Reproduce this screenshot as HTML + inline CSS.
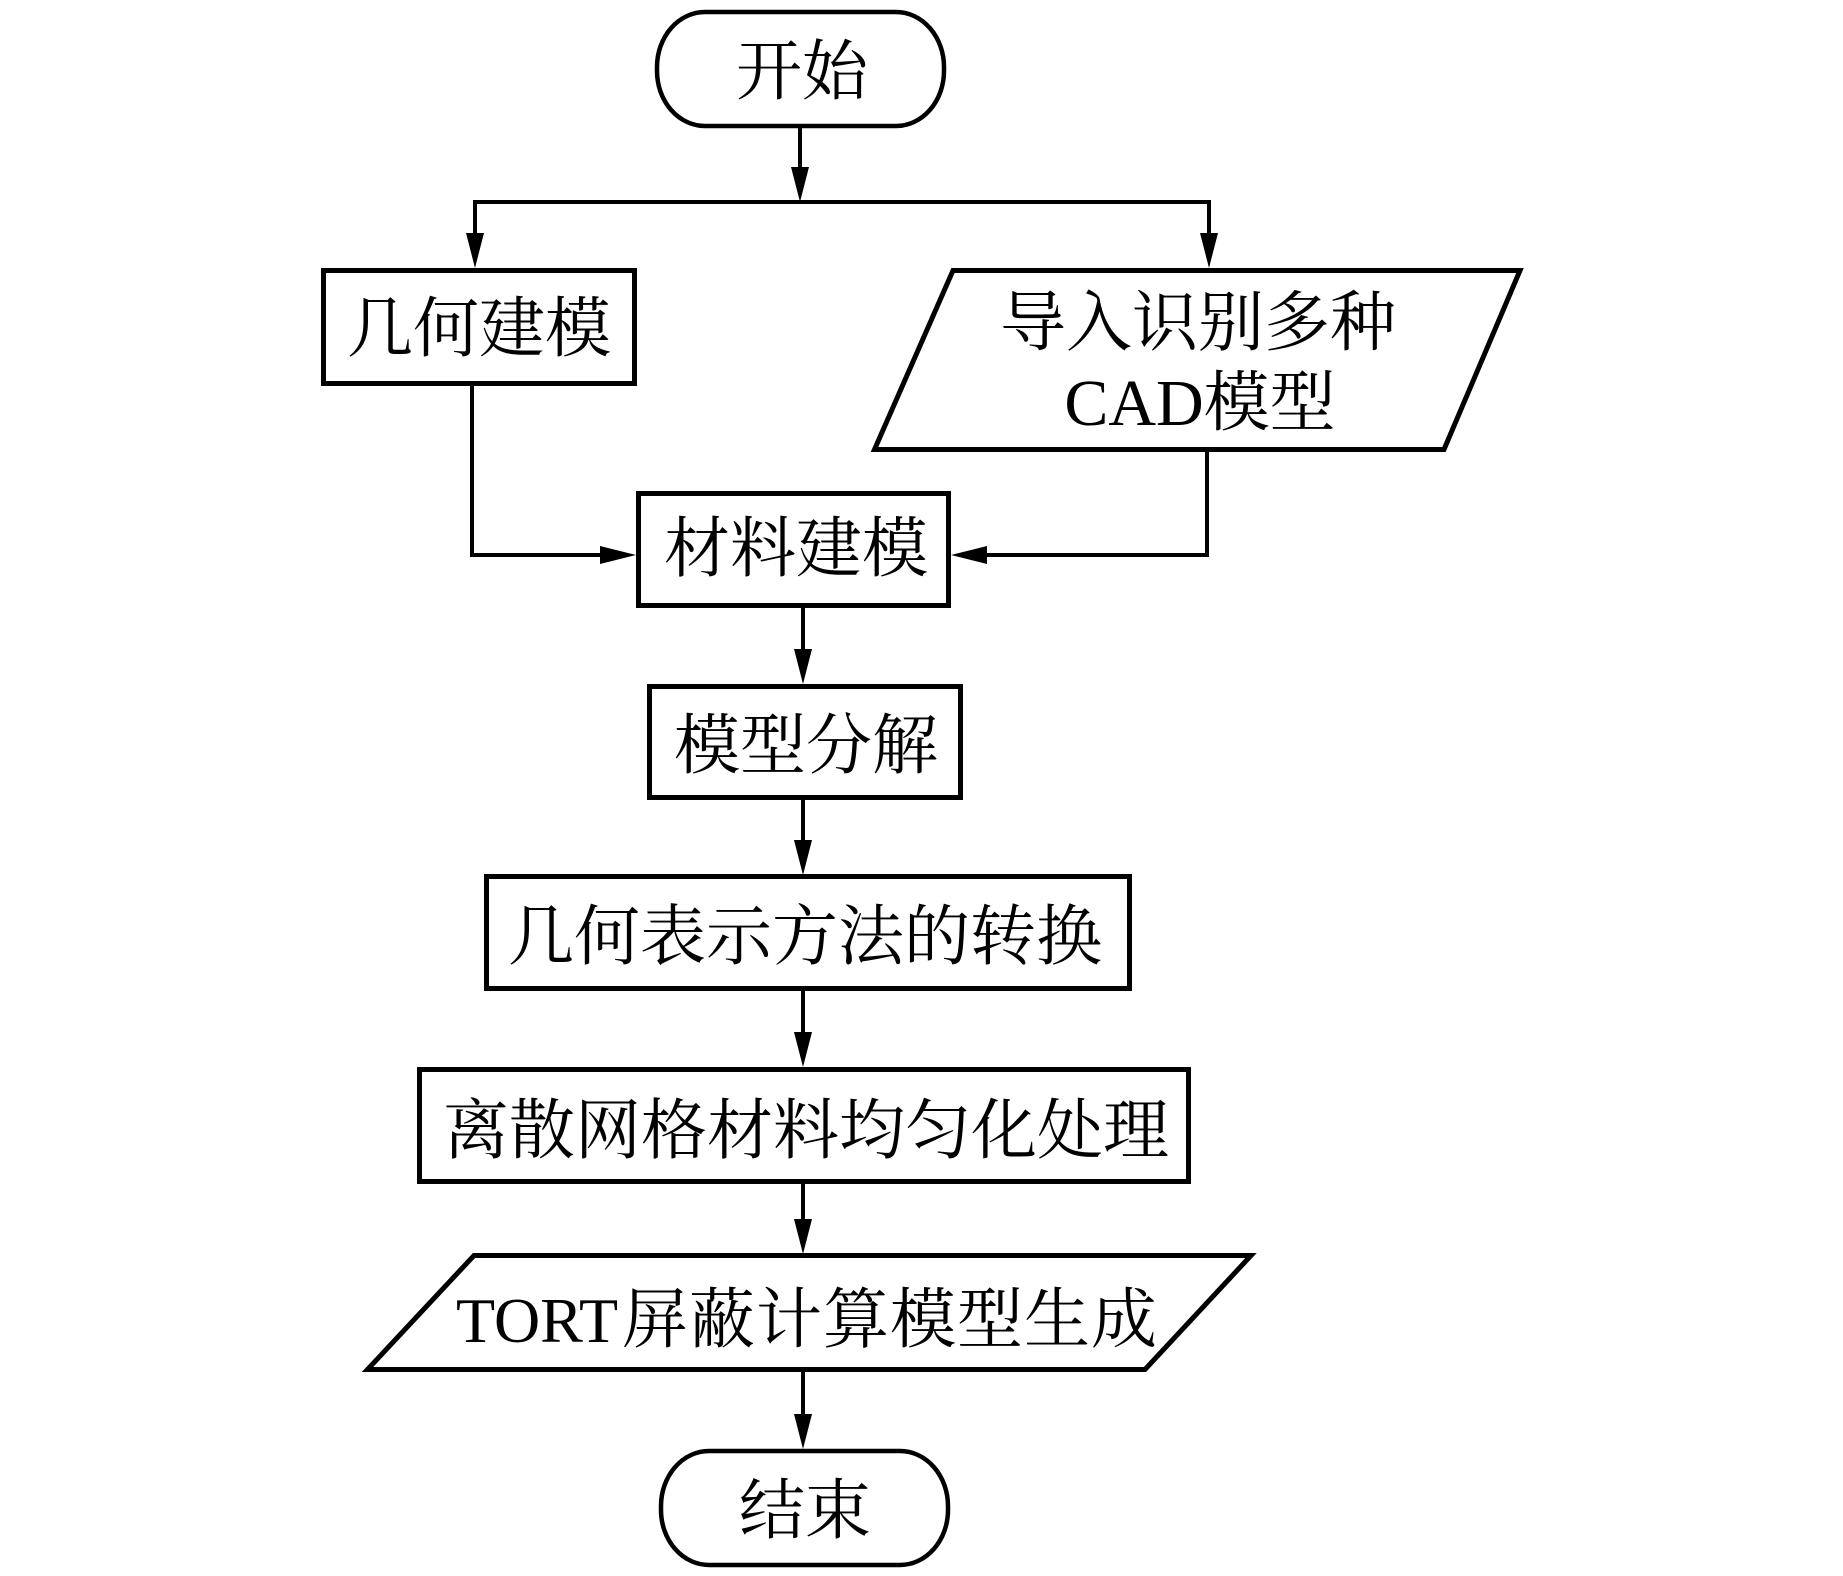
<!DOCTYPE html>
<html>
<head>
<meta charset="utf-8">
<style>
  html, body { margin: 0; padding: 0; background: #fff; }
  svg { display: block; }
  text { font-family: "Liberation Serif", "Noto Serif CJK SC", serif; font-size: 66px; fill: #000; }
</style>
</head>
<body>
<svg width="1843" height="1576" viewBox="0 0 1843 1576" xmlns="http://www.w3.org/2000/svg">
  <rect x="0" y="0" width="1843" height="1576" fill="#fff"/>
  <g fill="none" stroke="#000" stroke-width="5">
    <!-- start -->
    <rect x="657" y="12" width="287" height="114" rx="48" ry="55" stroke-width="4.5"/>
    <!-- geometry modeling -->
    <rect x="323.5" y="270.5" width="311" height="113"/>
    <!-- import parallelogram -->
    <polygon points="953,270.5 1520,270.5 1444,449.5 874.5,449.5"/>
    <!-- material modeling -->
    <rect x="638.5" y="493.5" width="310" height="112"/>
    <!-- model decomposition -->
    <rect x="649.5" y="686.5" width="311" height="111"/>
    <!-- geometry representation conversion -->
    <rect x="486.5" y="876.5" width="643" height="112"/>
    <!-- discrete mesh -->
    <rect x="419.5" y="1069.5" width="769" height="112"/>
    <!-- TORT parallelogram -->
    <polygon points="474,1255.5 1251,1255.5 1145,1369.5 367.5,1369.5"/>
    <!-- end -->
    <rect x="661" y="1451" width="287" height="114" rx="48" ry="55" stroke-width="4.5"/>
  </g>

  <!-- connectors -->
  <g fill="none" stroke="#000" stroke-width="4">
    <line x1="800" y1="128" x2="800" y2="172"/>
    <polyline points="475,250 475,202 1209,202 1209,250"/>
    <polyline points="472,386 472,555 606,555"/>
    <polyline points="1207,452 1207,555 982,555"/>
    <line x1="803" y1="608" x2="803" y2="652"/>
    <line x1="803" y1="800" x2="803" y2="843"/>
    <line x1="803" y1="991" x2="803" y2="1035"/>
    <line x1="803" y1="1184" x2="803" y2="1222"/>
    <line x1="803" y1="1372" x2="803" y2="1417"/>
  </g>

  <!-- arrowheads -->
  <g fill="#000" stroke="none">
    <polygon points="791,167 809,167 800,202"/>
    <polygon points="466,233 484,233 475,268"/>
    <polygon points="1200,233 1218,233 1209,268"/>
    <polygon points="600,546 600,564 636,555"/>
    <polygon points="987,546 987,564 951,555"/>
    <polygon points="794,649 812,649 803,684"/>
    <polygon points="794,840 812,840 803,875"/>
    <polygon points="794,1032 812,1032 803,1067"/>
    <polygon points="794,1219 812,1219 803,1254"/>
    <polygon points="794,1414 812,1414 803,1449"/>
  </g>

  <!-- labels -->
  <text x="802" y="94" text-anchor="middle">开始</text>
  <text x="479" y="351" text-anchor="middle">几何建模</text>
  <text x="1198" y="345" text-anchor="middle">导入识别多种</text>
  <text x="1200" y="425" text-anchor="middle">CAD模型</text>
  <text x="796" y="571" text-anchor="middle">材料建模</text>
  <text x="806" y="768" text-anchor="middle">模型分解</text>
  <text x="805" y="959" text-anchor="middle">几何表示方法的转换</text>
  <text x="806" y="1153" text-anchor="middle">离散网格材料均匀化处理</text>
  <text y="1342"><tspan x="456" font-size="64">TORT</tspan><tspan x="622">屏</tspan><tspan x="689">蔽</tspan><tspan x="756">计</tspan><tspan x="823">算</tspan><tspan x="890">模</tspan><tspan x="957">型</tspan><tspan x="1024">生</tspan><tspan x="1091">成</tspan></text>
  <text x="805" y="1533" text-anchor="middle">结束</text>
</svg>
</body>
</html>
